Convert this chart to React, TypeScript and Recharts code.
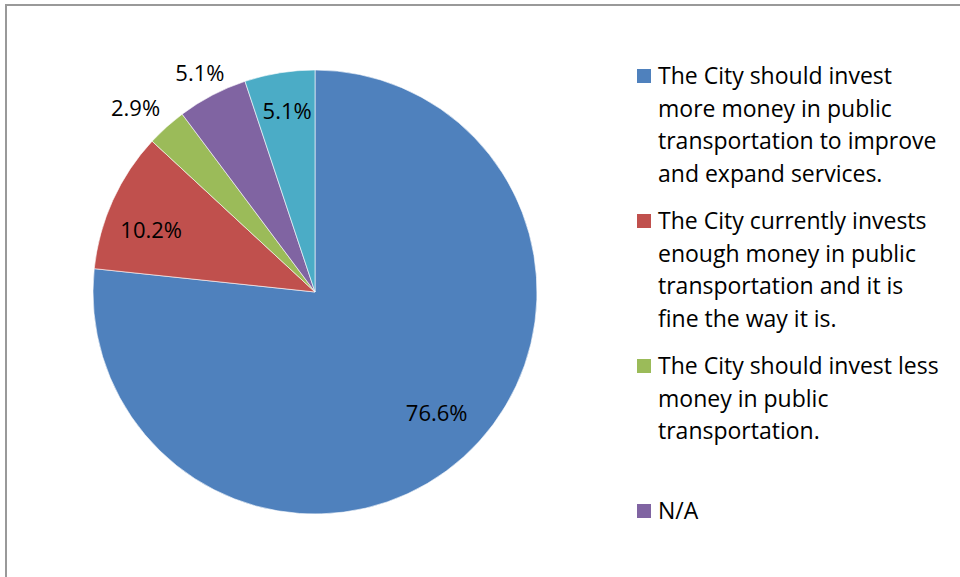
import React from "react";
import { Cell, Legend, Pie, PieChart } from "recharts";

const categories = [
  "The City should invest more money in public transportation to improve and expand services.",
  "The City currently invests enough money in public transportation and it is fine the way it is.",
  "The City should invest less money in public transportation.",
  "N/A",
  "Other",
];
const shares = [76.6, 10.2, 2.9, 5.1, 5.1];
const colors = ["#4F81BD", "#C0504D", "#9BBB59", "#8064A2", "#4BACC6"];
// label placement (Excel "best fit"): share of radius, and a small turn off the mid angle
const labelRadius = [0.77, 0.79, 1.16, 1.12, 0.83];
const labelTurn = [3.4, 3.5, 2.2, 0, -0.5];
// only the first four legend entries fit in the frame
const legendShown = 4;

const data = categories.map((name, i) => ({ name, value: shares[i] }));

const FONT = "'Open Sans', sans-serif";
const RADIAN = Math.PI / 180;

const renderLabel = (props: any) => {
  const { cx, cy, midAngle, outerRadius, index, value } = props;
  const r = outerRadius * labelRadius[index];
  const a = midAngle + labelTurn[index];
  const x = cx + r * Math.cos(-a * RADIAN);
  const y = cy + r * Math.sin(-a * RADIAN);
  return (
    <text
      x={x}
      y={y}
      textAnchor="middle"
      dominantBaseline="central"
      style={{ fontFamily: FONT, fontSize: 22, fill: "#000" }}
    >
      {`${value.toFixed(1)}%`}
    </text>
  );
};

const LegendContent = () => (
  <div style={{ fontFamily: FONT, fontSize: 23, lineHeight: "32.5px", color: "#000" }}>
    {data.slice(0, legendShown).map((d, i) => (
      <div
        key={d.name}
        style={{ position: "relative", height: 145, paddingLeft: 21 }}
      >
        <span
          style={{
            position: "absolute",
            left: 0,
            top: 10,
            width: 14,
            height: 14,
            background: colors[i],
          }}
        />
        {d.name}
      </div>
    ))}
  </div>
);

export default function App() {
  return (
    <div
      style={{
        position: "fixed",
        left: 0,
        top: 0,
        width: 960,
        height: 577,
        overflow: "hidden",
        background: "#fff",
      }}
    >
      <div
        style={{
          position: "absolute",
          left: 5,
          top: 4,
          width: 1000,
          height: 700,
          border: "2px solid #999",
        }}
      />
      <div style={{ position: "absolute", left: 0, top: 0 }}>
        <PieChart
          width={960}
          height={577}
          margin={{ top: 0, right: 0, bottom: 0, left: 0 }}
        >
          <Pie
            data={data}
            dataKey="value"
            nameKey="name"
            cx={315}
            cy={292}
            outerRadius={222}
            startAngle={90}
            endAngle={-270}
            stroke="#fff"
            strokeWidth={0.6}
            label={renderLabel}
            labelLine={false}
            isAnimationActive={false}
          >
            {data.map((d, i) => (
              <Cell key={d.name} fill={colors[i]} />
            ))}
          </Pie>
          <Legend
            layout="vertical"
            content={<LegendContent />}
            wrapperStyle={{ left: 637, top: 59, width: 305, bottom: "auto", right: "auto" }}
          />
        </PieChart>
      </div>
    </div>
  );
}
